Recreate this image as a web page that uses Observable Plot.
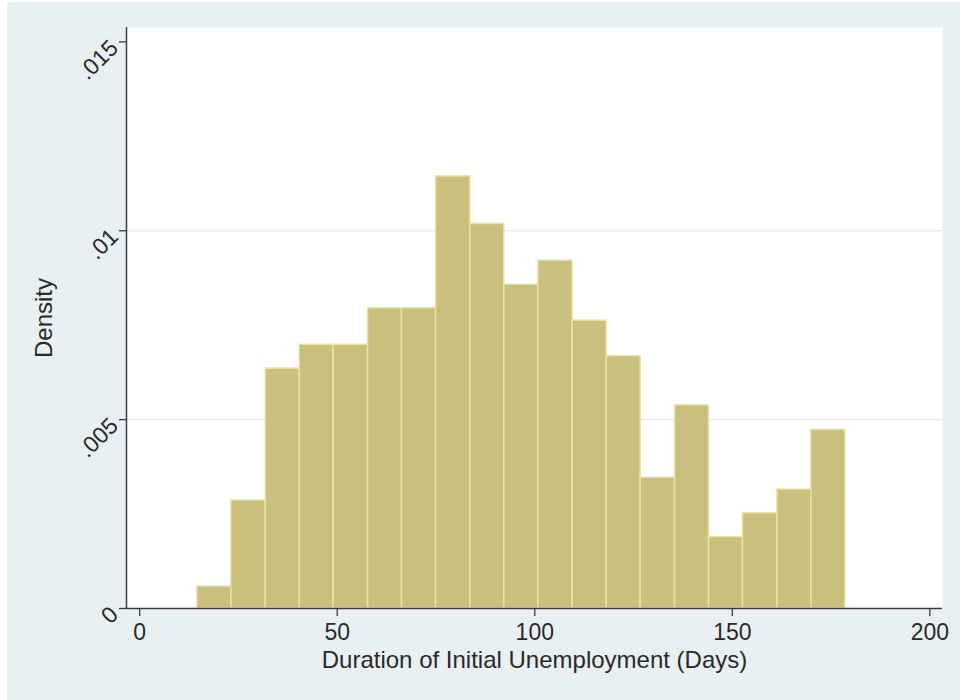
<!DOCTYPE html>
<html>
<head>
<meta charset="utf-8">
<script src="https://cdn.jsdelivr.net/npm/d3@7"></script>
<script src="https://cdn.jsdelivr.net/npm/@observablehq/plot@0.6"></script>
<style>
  html, body { margin: 0; padding: 0; background: #ffffff; overflow: hidden; }
  #chart { position: absolute; left: 7px; top: 2px; }
  #chart svg { display: block; }
</style>
</head>
<body>
<div id="chart"></div>
<script>
// Histogram bins (lower edges plus final upper edge) and bar densities
const binEdges = [14.6, 23.2, 31.9, 40.5, 49.1, 57.8, 66.4, 75.0, 83.7, 92.3, 100.9, 109.6, 118.2, 126.8, 135.5, 144.1, 152.7, 161.4, 170.0, 178.6];
const densities = [0.00058, 0.00286, 0.00635, 0.00698, 0.00698, 0.00795, 0.00795, 0.01144, 0.01018, 0.00857, 0.00921, 0.00762, 0.00668, 0.00346, 0.00538, 0.00189, 0.00252, 0.00315, 0.00473];

const xTicks = [0, 50, 100, 150, 200];
const yTicks = [0, 0.005, 0.01, 0.015];
const yTickLabels = ["0", ".005", ".01", ".015"];
const yGrid = [0.005, 0.01];
const xTitle = "Duration of Initial Unemployment (Days)";
const yTitle = "Density";

const bins = densities.map((d, i) => ({x1: binEdges[i], x2: binEdges[i + 1], density: d}));
const xDomain = [-3.34, 203.2];
const yDomain = [0, 0.01538];

const font = "'Liberation Sans', Arial, Helvetica, sans-serif";
const axisColor = "#3c3c3c";
const textColor = "#2a2a2a";

const chart = Plot.plot({
  width: 953,
  height: 698,
  marginLeft: 119,
  marginRight: 18,
  marginTop: 25,
  marginBottom: 92,
  style: {background: "#e9f0f2", fontFamily: font, color: axisColor},
  x: {domain: xDomain},
  y: {domain: yDomain},
  marks: [
    Plot.frame({fill: "white", stroke: null}),
    Plot.ruleY(yGrid, {stroke: "#ebebeb", strokeWidth: 1.5}),
    Plot.rectY(bins, {x1: "x1", x2: "x2", y: "density", fill: "#c9c07e", stroke: "#ebe2a6", strokeWidth: 1.5}),
    Plot.ruleX([xDomain[0]], {stroke: axisColor, strokeWidth: 1.5}),
    Plot.ruleY([0], {stroke: axisColor, strokeWidth: 1.5}),
    Plot.axisX({ticks: xTicks, tickSize: 8, tickPadding: 7, fontSize: 23, label: null, stroke: axisColor, strokeWidth: 1.3, fill: textColor}),
    Plot.axisY({ticks: yTicks, tickSize: 7, tickFormat: () => "", label: null, stroke: axisColor, strokeWidth: 1.3}),
    Plot.text(yTicks, {y: d => d, text: (d, i) => yTickLabels[i], frameAnchor: "left", rotate: -45, textAnchor: "end", lineAnchor: "bottom", dx: -7, dy: 7.5, fontSize: 23, fill: textColor}),
    Plot.text([xTitle], {text: d => d, frameAnchor: "bottom", lineAnchor: "bottom", dy: 59, fontSize: 24, fill: textColor}),
    Plot.text([yTitle], {text: d => d, frameAnchor: "left", rotate: -90, lineAnchor: "bottom", textAnchor: "middle", dx: -75, fontSize: 24, fill: textColor})
  ]
});
document.getElementById("chart").appendChild(chart);
</script>
</body>
</html>
